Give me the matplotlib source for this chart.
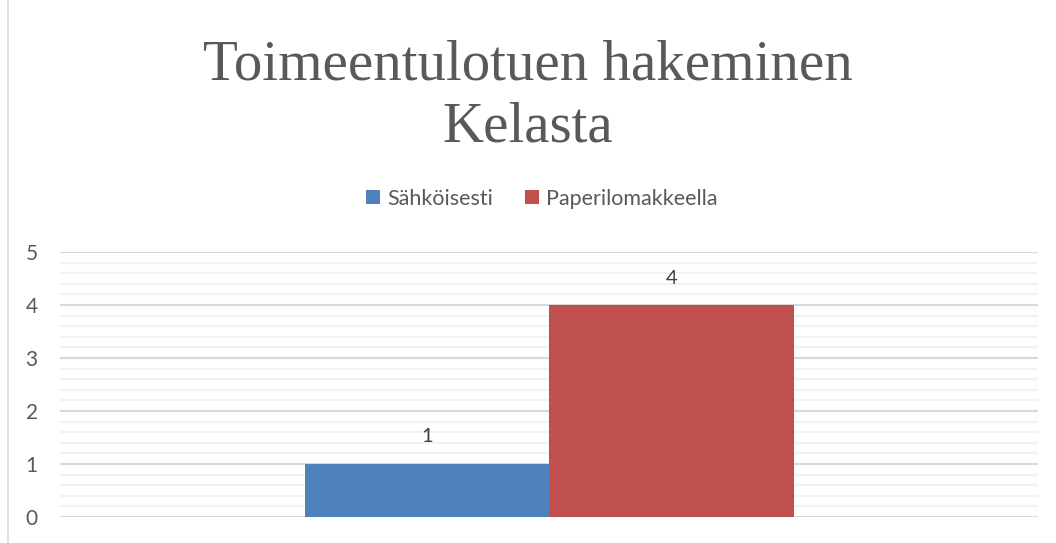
import matplotlib
matplotlib.use("Agg")
import matplotlib.pyplot as plt
from matplotlib.ticker import MultipleLocator
from matplotlib.patches import Rectangle

title = "Toimeentulotuen hakeminen\nKelasta"
series = ["Sähköisesti", "Paperilomakkeella"]
values = [1, 4]
colors = ["#4f81bd", "#c0504d"]
yticks = [0, 1, 2, 3, 4, 5]

fig = plt.figure(figsize=(10.56, 5.43), dpi=100)
ax = fig.add_axes([60/1056, 1-517/543, (1038-60)/1056, (517-252)/543])

width = 0.25
offsets = [-width/2, width/2]
handles = []
for s, v, c, o in zip(series, values, colors, offsets):
    b = ax.bar(o, v, width=width, color=c, label=s, zorder=3)
    handles.append(b)
    ax.annotate(str(v), (o, v), xytext=(0, 27), textcoords="offset pixels",
                ha="center", va="center", fontsize=14.5, color="#404040",
                family="Lato")

ax.set_xlim(-0.5, 0.5)
ax.set_ylim(0, 5)
ax.set_yticks(yticks)
ax.yaxis.set_minor_locator(MultipleLocator(0.2))
ax.grid(axis="y", which="major", color="#d9d9d9", linewidth=1.5, zorder=0)
ax.grid(axis="y", which="minor", color="#f2f2f2", linewidth=1.5, zorder=0)
ax.set_xticks([])
for sp in ax.spines.values():
    sp.set_visible(False)
ax.tick_params(axis="y", which="both", length=0, pad=16, labelsize=15,
               labelcolor="#595959")
for lab in ax.get_yticklabels():
    lab.set_family("Lato")

fig.text(0.5, 1-142/543, title, ha="center", va="baseline", fontsize=41,
         color="#595959", family="Liberation Serif", linespacing=1.25)

leg = fig.legend(handles=handles, labels=series, loc="center",
                 bbox_to_anchor=(542/1056, 1-199/543), ncol=2, frameon=False,
                 prop={"family": "Lato", "size": 15.5}, handlelength=0.62,
                 handleheight=0.62, handletextpad=0.35, columnspacing=1.5)
for t in leg.get_texts():
    t.set_color("#595959")

fig.add_artist(Rectangle((8/1056, -0.01), 1.1, 1.1, transform=fig.transFigure,
                         fill=False, edgecolor="#d9d9d9", linewidth=1.2))

fig.savefig("out.png", dpi=100)
